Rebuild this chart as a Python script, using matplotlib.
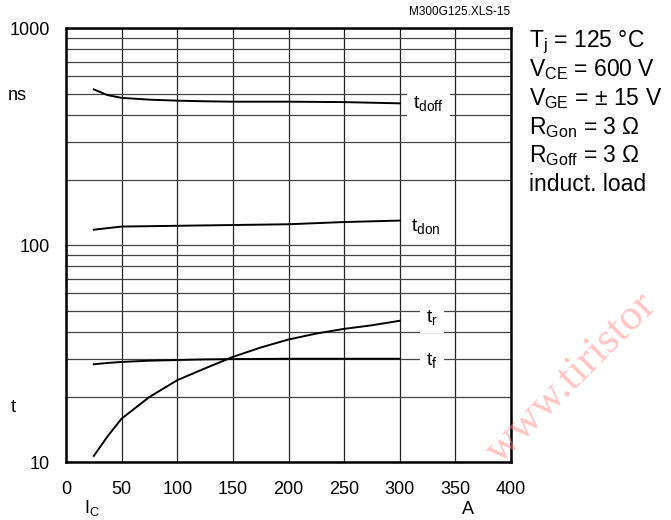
import numpy as np
import matplotlib
matplotlib.use("Agg")
import matplotlib.pyplot as plt
from matplotlib.ticker import FixedLocator, NullFormatter

plt.rcParams["font.family"] = ["Liberation Sans", "DejaVu Sans"]
plt.rcParams["mathtext.fontset"] = "custom"
plt.rcParams["mathtext.rm"] = "Liberation Sans"
plt.rcParams["mathtext.it"] = "Liberation Sans"
plt.rcParams["mathtext.default"] = "regular"

# switching times vs collector current, Tj = 125 C
ic = [25, 37.5, 50, 75, 100, 125, 150, 175, 200, 225, 250, 275, 300]
t_doff = [523, 492, 478, 469, 464, 461, 459, 459, 459, 458, 457, 454, 451]
t_don = [118, 120, 122, 122.5, 123, 123.5, 124, 124.5, 125, 126.5, 128, 129, 130]
t_r = [10.7, 13.2, 15.9, 20.0, 23.9, 27.1, 30.6, 33.8, 36.8, 39.2, 41.2, 42.8, 44.9]
t_f = [28.3, 28.7, 29.0, 29.4, 29.6, 29.8, 29.9, 29.95, 30.0, 30.0, 30.0, 30.0, 30.0]

x_ticks = [0, 50, 100, 150, 200, 250, 300, 350, 400]
y_ticks = [10, 100, 1000]
y_tick_labels = ["10", "100", "1000"]

conditions = [
    "$T_j$ = 125 °C",
    "$V_{CE}$ = 600 V",
    "$V_{GE}$ = ± 15 V",
    "$R_{Gon}$ = 3 Ω",
    "$R_{Goff}$ = 3 Ω",
    "induct. load",
]

W, H = 671, 520
fig = plt.figure(figsize=(W / 100, H / 100), dpi=100)


def fxy(x, y):
    return x / W, 1 - y / H


ax = fig.add_axes([66 / W, 1 - 462.3 / H, 445 / W, 434 / H])
ax.set_yscale("log")
ax.set_xlim(0, 400)
ax.set_ylim(10, 1000)

ax.xaxis.set_major_locator(FixedLocator(x_ticks))
ax.set_xticklabels([str(v) for v in x_ticks])
ax.yaxis.set_major_locator(FixedLocator(y_ticks))
ax.set_yticklabels(y_tick_labels)
ax.yaxis.set_minor_formatter(NullFormatter())
ax.tick_params(which="both", length=0, labelsize=13)
ax.tick_params(axis="x", pad=13.5)
ax.tick_params(axis="y", pad=11.5)

ax.grid(True, axis="x", which="major", color="#222222", lw=0.9)
ax.grid(True, axis="y", which="both", color="#444444", lw=0.9)
for s in ax.spines.values():
    s.set_linewidth(1.8)
    s.set_color("black")

for ys in (t_doff, t_don, t_r, t_f):
    ax.plot(ic, ys, color="black", lw=1.4, zorder=3)

box = dict(boxstyle="square,pad=0.33", fc="white", ec="none")
lab = dict(fontsize=14, va="center", ha="left", bbox=box, zorder=4)
ax.text(312, 452, "$t_{doff}$", **lab)
ax.text(310, 122, "$t_{don}$", **lab)
ax.text(323.6, 46.7, "$t_r$", **lab)
ax.text(323.6, 29.6, "$t_f$", **lab)

# axis captions
fig.text(*fxy(8, 95), "ns", fontsize=13, va="center", ha="left")
fig.text(*fxy(11, 408), "t", fontsize=13, va="center", ha="left")
fig.text(*fxy(84, 508), "$I_C$", fontsize=13, va="center", ha="left")
fig.text(*fxy(462, 510), "A", fontsize=13, va="center", ha="left")
fig.text(*fxy(510, 12), "M300G125.XLS-15", fontsize=8.5, va="center", ha="right")

for i, line in enumerate(conditions):
    fig.text(*fxy(529, 47.5 + i * 28.7), line, fontsize=16.5, va="baseline", ha="left")

fig.text(*fxy(500, 465), "www.tiristor", fontsize=32, family="Liberation Serif",
         color="#ff8c8c", alpha=0.5, rotation=45, rotation_mode="anchor",
         ha="left", va="baseline", zorder=10)

fig.savefig("out.png", dpi=100)
